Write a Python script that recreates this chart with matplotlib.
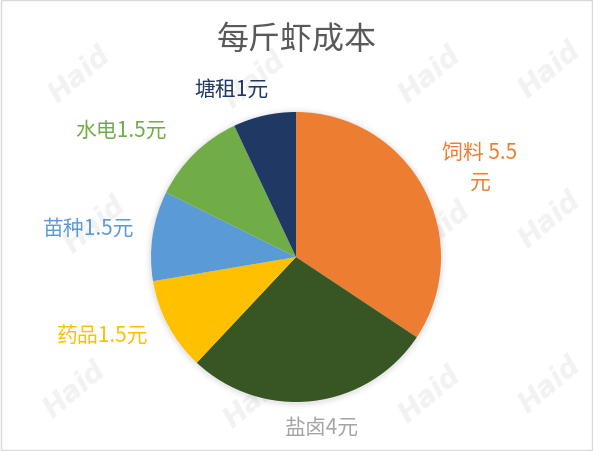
import matplotlib.pyplot as plt
from matplotlib.patches import Circle

plt.rcParams['font.family'] = ['Noto Sans CJK SC', 'DejaVu Sans']

# ========== DATA ==========
categories = ["饲料", "盐卤", "药品", "苗种", "水电", "塘租"]
values = [5.15, 4.15, 1.55, 1.5, 1.6, 1.05]
label_texts = ["饲料 5.5\n元", "盐卤4元", "药品1.5元", "苗种1.5元", "水电1.5元", "塘租1元"]
colors = ["#ED7D31", "#375623", "#FFC000", "#5B9BD5", "#70AD47", "#203864"]
label_colors = ["#ED7D31", "#A5A5A5", "#FFC000", "#5B9BD5", "#70AD47", "#203864"]

# ========== LAYOUT (pixels from top-left) ==========
W, H = 593, 452
label_pos = [(480, 168), (322, 428), (103, 337), (89, 229), (121, 131), (231, 90)]

fig = plt.figure(figsize=(W / 100, H / 100), dpi=100)
ax = fig.add_axes([0, 0, 1, 1])

# faint watermark
for wx, wy in [(75, 390), (255, 400), (430, 395), (550, 385),
               (95, 225), (280, 235), (440, 230), (550, 220),
               (80, 75), (255, 80), (430, 75), (550, 70)]:
    ax.text(wx, H - wy, "Haid", fontsize=20, fontweight="bold", style="italic",
            color="#F2F2F2", rotation=40, ha="center", va="center",
            family="DejaVu Sans", zorder=0)

cx, cy, r = 296, H - 258, 145

# soft shadow under the pie
for k, a in [(6, 0.015), (4, 0.025), (2, 0.04)]:
    ax.add_patch(Circle((cx, cy - 1), r + k, color="black", alpha=a,
                        linewidth=0, zorder=0.5))

wedges, _ = ax.pie(values, colors=colors, startangle=90, counterclock=False,
                   center=(cx, cy), radius=r, frame=True,
                   wedgeprops=dict(linewidth=0))
ax.set_xlim(0, W)
ax.set_ylim(0, H)
ax.set_aspect("equal")
ax.axis("off")

for (lx, ly), txt, col in zip(label_pos, label_texts, label_colors):
    ax.text(lx, H - ly, txt, color=col, fontsize=15, ha="center", va="center",
            linespacing=1.45, fontweight="medium")

fig.text(0.5, 1 - 40 / H, "每斤虾成本", ha="center", va="center",
         fontsize=23, color="#595959")

# figure border
fig.patches.append(plt.Rectangle((0.002, 0.002), 0.996, 0.996,
                                 transform=fig.transFigure, fill=False,
                                 edgecolor="#D9D9D9", linewidth=1))

fig.savefig("out.png", dpi=100)
